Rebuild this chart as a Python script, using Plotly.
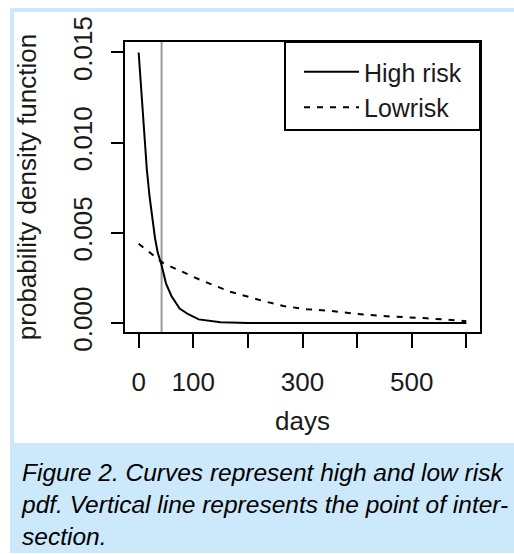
import plotly.graph_objects as go

# ---- data ----
high_days = [0, 5, 10, 15, 20, 25, 30, 35, 42, 50, 60, 75, 90, 110, 130, 150, 200, 300, 400, 500, 600]
high_pdf = [0.0150, 0.0128, 0.0103, 0.0085, 0.0070, 0.0057, 0.0047, 0.0039, 0.0032, 0.0022,
            0.0015, 0.0008, 0.0005, 0.0002, 0.0001, 0.00004, 0.0, 0.0, 0.0, 0.0, 0.0]

low_days = [0, 45, 112, 167, 228, 265, 308, 350, 396, 466, 528, 600]
low_pdf = [0.00439, 0.00332, 0.0024, 0.00174, 0.00122, 0.00094, 0.00076, 0.00068,
           0.00051, 0.00035, 0.00026, 0.0001]

intersection_day = 42

x_tickvals = [0, 100, 200, 300, 400, 500, 600]
x_ticktext = ["0", "100", "", "300", "", "500", ""]
y_tickvals = [0.000, 0.005, 0.010, 0.015]
y_ticktext = ["0.000", "0.005", "0.010", "0.015"]

series_names = ["High risk", "Lowrisk"]
caption = ("Figure 2. Curves represent high and low risk<br>"
           "pdf. Vertical line represents the point of inter-<br>"
           "section.")

# ---- layout geometry (pixels) ----
W, H = 514, 554
L, R, T, B = 125, 480, 42, 332
PW, PH = R - L, B - T


def px(xp):
    return (xp - L) / PW


def py(yp):
    return (B - yp) / PH


FONT = "Liberation Sans, Arial, sans-serif"
TXT = "#1a1a1a"

fig = go.Figure()
fig.add_trace(go.Scatter(x=high_days, y=high_pdf, mode="lines", name=series_names[0],
                         line=dict(color="black", width=2)))
fig.add_trace(go.Scatter(x=low_days, y=low_pdf, mode="lines", name=series_names[1],
                         line=dict(color="black", width=2, dash="6px,7px")))

shapes = [
    # light blue frame
    dict(type="rect", xref="paper", yref="paper", x0=px(10), x1=px(530), y0=py(8), y1=py(553),
         fillcolor="#cce9fb", line=dict(width=0), layer="below"),
    # white panel
    dict(type="rect", xref="paper", yref="paper", x0=px(14), x1=px(530), y0=py(12), y1=py(443),
         fillcolor="white", line=dict(width=0), layer="below"),
    # intersection line
    dict(type="line", xref="x", yref="y domain", x0=intersection_day, x1=intersection_day, y0=0, y1=1,
         line=dict(color="#9a9a9a", width=2), layer="below"),
    # legend box
    dict(type="rect", xref="paper", yref="paper", x0=px(285), x1=1, y0=py(130), y1=1,
         line=dict(color="black", width=2), fillcolor="rgba(0,0,0,0)"),
]

fig.update_layout(
    width=W, height=H,
    margin=dict(l=L, r=W - R, t=T, b=H - B, pad=0),
    paper_bgcolor="white",
    plot_bgcolor="rgba(0,0,0,0)",
    font=dict(family=FONT, size=25, color=TXT),
    shapes=shapes,
    showlegend=True,
    legend=dict(x=px(299), y=py(49), xanchor="left", yanchor="top", xref="paper", yref="paper",
                bgcolor="rgba(0,0,0,0)", borderwidth=0, itemwidth=55,
                font=dict(family=FONT, size=25, color=TXT), tracegroupgap=0),
    annotations=[
        dict(text=caption, xref="paper", yref="paper", x=px(19), y=py(457), xanchor="left",
             yanchor="top", align="left", showarrow=False,
             font=dict(family=FONT, size=24.5, color="black", style="italic")),
    ],
)

fig.update_xaxes(range=[-25, 625], tickmode="array", tickvals=x_tickvals, ticktext=x_ticktext,
                 ticks="outside", ticklen=14, tickwidth=2, tickcolor="black",
                 showline=True, linecolor="black", linewidth=2, mirror=True,
                 showgrid=False, zeroline=False, ticklabelstandoff=12,
                 tickfont=dict(size=26, color=TXT),
                 title=dict(text="days", standoff=16, font=dict(size=26, color=TXT)))
fig.update_yaxes(range=[-0.0005, 0.01558], tickmode="array", tickvals=y_tickvals, ticktext=y_ticktext,
                 ticks="outside", ticklen=12, tickwidth=2, tickcolor="black", tickangle=-90,
                 showline=True, linecolor="black", linewidth=2, mirror=True,
                 showgrid=False, zeroline=False, ticklabelstandoff=9,
                 tickfont=dict(size=26, color=TXT),
                 title=dict(text="probability density function", standoff=23,
                            font=dict(size=26, color=TXT)))

fig.write_html("out.html", config={"displayModeBar": False},
               post_script="document.body.style.margin='0';")
